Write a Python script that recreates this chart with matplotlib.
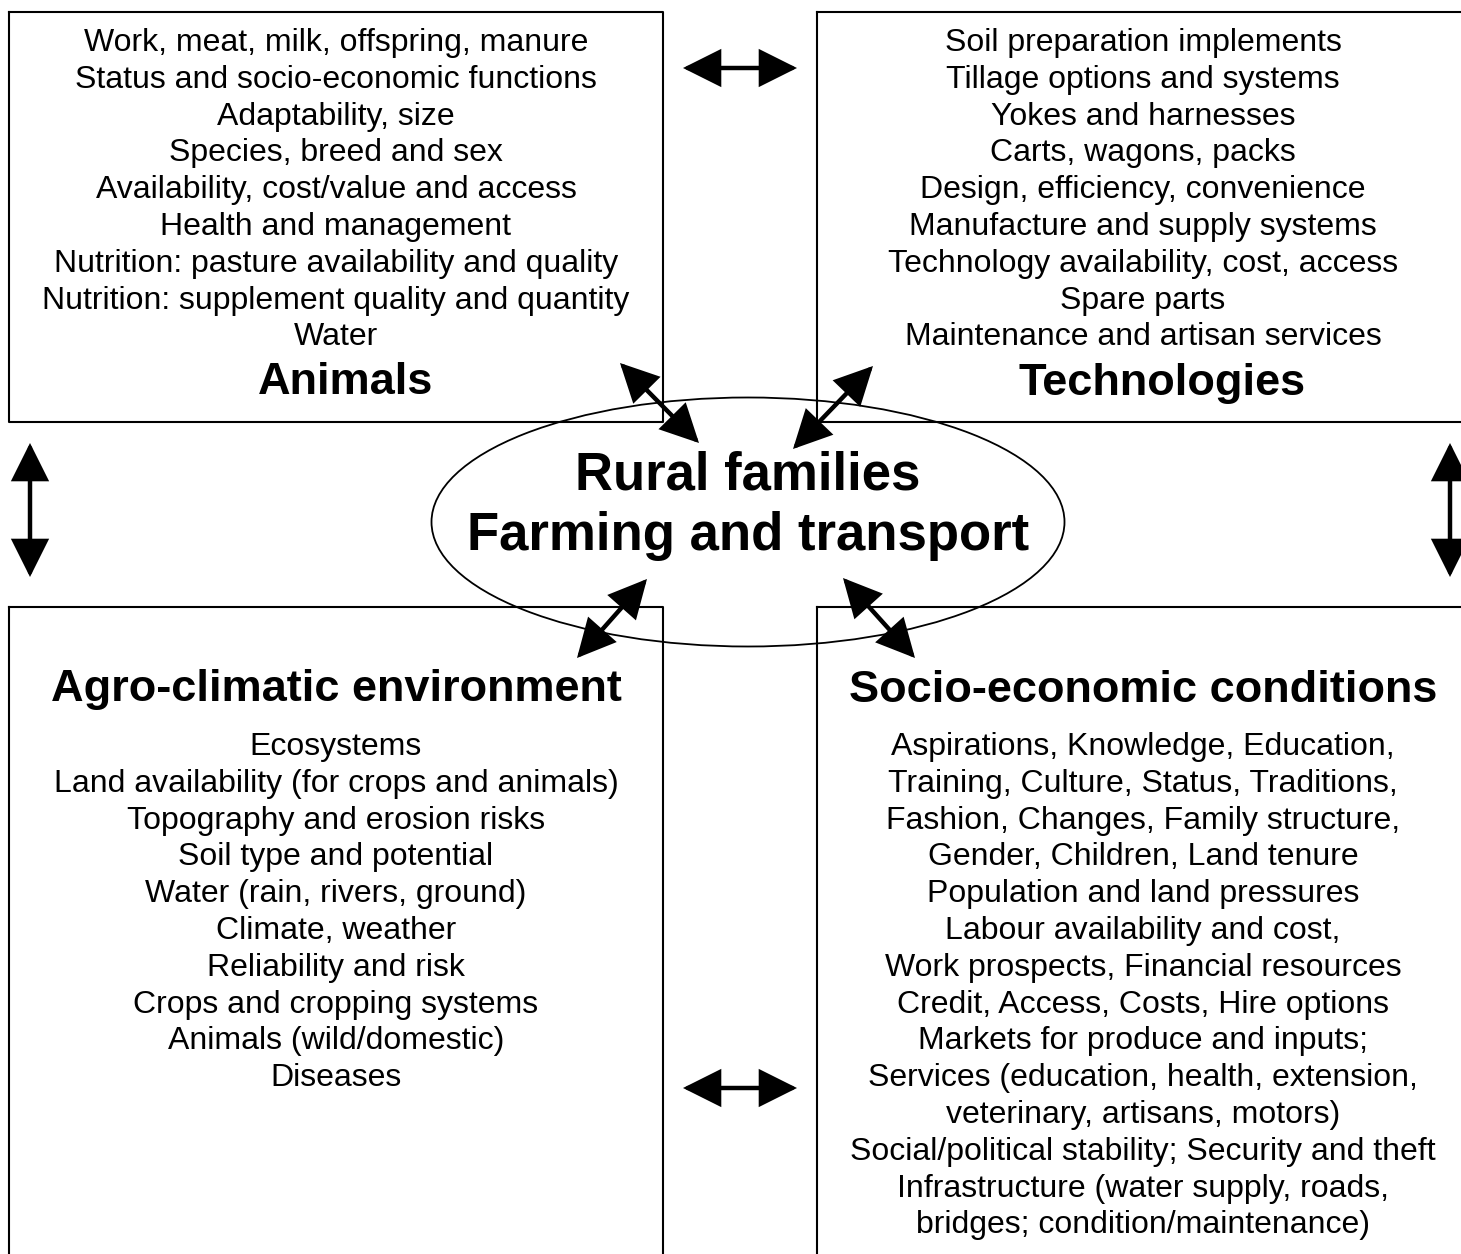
import matplotlib.pyplot as plt
from matplotlib.patches import Ellipse, FancyArrowPatch

plt.rcParams['font.family'] = ['Liberation Sans', 'DejaVu Sans']

# box contents
animals_title = 'Animals'
animals_items = ['Work, meat, milk, offspring, manure',
                 'Status and socio-economic functions',
                 'Adaptability, size',
                 'Species, breed and sex',
                 'Availability, cost/value and access',
                 'Health and management',
                 'Nutrition: pasture availability and quality',
                 'Nutrition: supplement quality and quantity',
                 'Water']

tech_title = 'Technologies'
tech_items = ['Soil preparation implements',
              'Tillage options and systems',
              'Yokes and harnesses',
              'Carts, wagons, packs',
              'Design, efficiency, convenience',
              'Manufacture and supply systems',
              'Technology availability, cost, access',
              'Spare parts',
              'Maintenance and artisan services']

agro_title = 'Agro-climatic environment'
agro_items = ['Ecosystems',
              'Land availability (for crops and animals)',
              'Topography and erosion risks',
              'Soil type and potential',
              'Water (rain, rivers, ground)',
              'Climate, weather',
              'Reliability and risk',
              'Crops and cropping systems',
              'Animals (wild/domestic)',
              'Diseases']

socio_title = 'Socio-economic conditions'
socio_items = ['Aspirations, Knowledge, Education,',
               'Training, Culture, Status, Traditions,',
               'Fashion, Changes, Family structure,',
               'Gender, Children, Land tenure',
               'Population and land pressures',
               'Labour availability and cost,',
               'Work prospects, Financial resources',
               'Credit, Access, Costs, Hire options',
               'Markets for produce and inputs;',
               'Services (education, health, extension,',
               'veterinary, artisans, motors)',
               'Social/political stability; Security and theft',
               'Infrastructure (water supply, roads,',
               'bridges; condition/maintenance)']

centre_lines = ['Rural families', 'Farming and transport']

W, H = 1461, 1254
fig = plt.figure(figsize=(W / 100, H / 100), dpi=100)
ax = fig.add_axes([0, 0, 1, 1])
ax.set_xlim(0, W)
ax.set_ylim(H, 0)
ax.axis('off')

lw = 1.5
# boxes (left, top, right, bottom) -- some run off the page
boxes = [(9, 12, 663, 422), (817, 12, W + 5, 422),
         (9, 607, 663, H + 5), (817, 607, W + 5, H + 5)]
for x0, y0, x1, y1 in boxes:
    ax.plot([x0, x1, x1, x0, x0], [y0, y0, y1, y1, y0], color='black', lw=lw)

ax.add_patch(Ellipse((748, 522), 633, 249, fill=False, ec='black', lw=1.3))

item_fs = 23
title_fs = 32.5
step = 36.8


def write_items(items, xc, y0):
    for i, s in enumerate(items):
        ax.text(xc, y0 + i * step, s, ha='center', va='center', fontsize=item_fs)


write_items(animals_items, 336, 43)
write_items(tech_items, 1143, 43)
write_items(agro_items, 336, 747)
write_items(socio_items, 1143, 747)

ax.text(346, 383, animals_title, ha='center', va='center', fontsize=title_fs, weight='bold')
ax.text(1162, 383, tech_title, ha='center', va='center', fontsize=title_fs, weight='bold')
ax.text(336, 690, agro_title, ha='center', va='center', fontsize=title_fs, weight='bold')
ax.text(1143, 690, socio_title, ha='center', va='center', fontsize=title_fs, weight='bold')

for i, s in enumerate(centre_lines):
    ax.text(748, 476 + i * 60, s, ha='center', va='center', fontsize=38, weight='bold')

arrows = [((683, 68), (797, 68)), ((683, 1088), (797, 1088)),
          ((30, 443), (30, 577)), ((1450, 443), (1450, 577)),
          ((620, 363), (699, 443)), ((873, 366), (793, 449)),
          ((647, 579), (577, 658)), ((843, 578), (915, 658))]
for a, b in arrows:
    ax.add_patch(FancyArrowPatch(a, b, arrowstyle='<|-|>,head_length=0.8,head_width=0.4',
                                 mutation_scale=28, lw=3.2, color='black',
                                 shrinkA=0, shrinkB=0, joinstyle='miter'))

fig.savefig('out.png', dpi=100)
